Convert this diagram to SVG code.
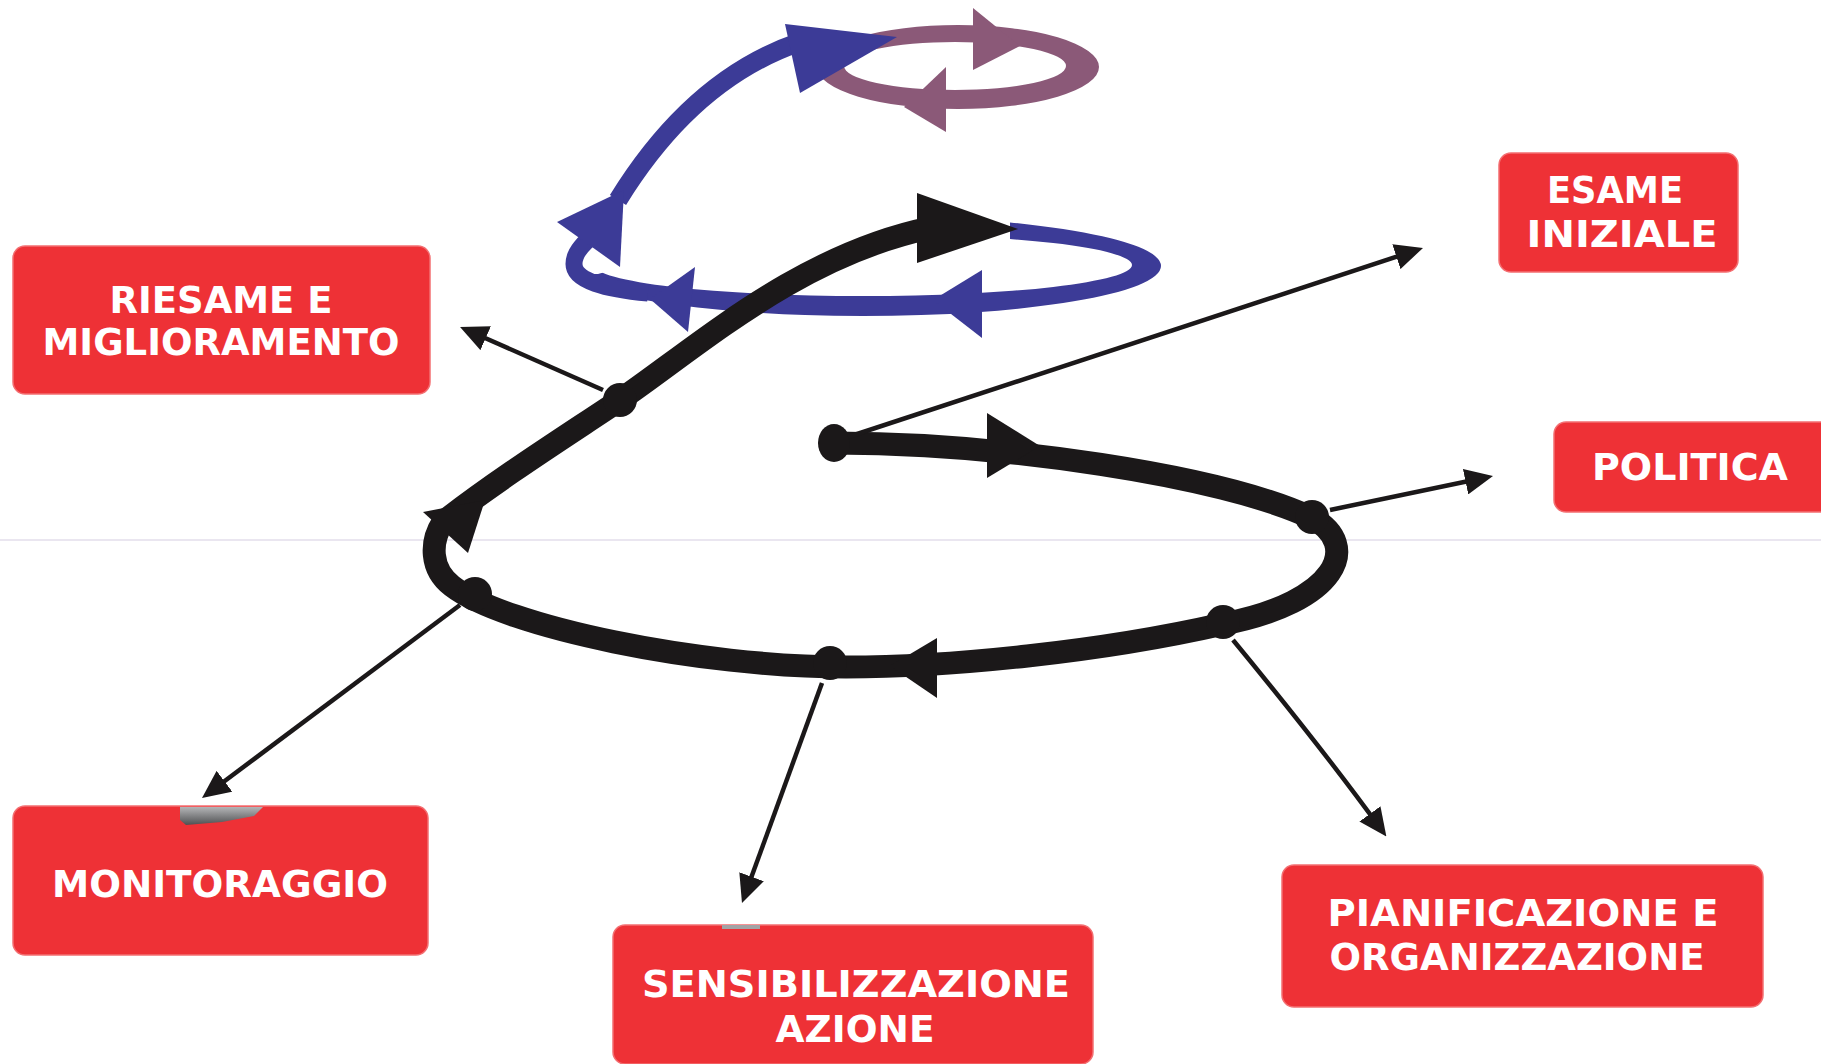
<svg xmlns="http://www.w3.org/2000/svg" width="1821" height="1064" viewBox="0 0 1821 1064">
<style>
.box{fill:#ee3136;stroke:#f36f72;stroke-width:1.5}
.lbl{font-family:"DejaVu Sans","Verdana",sans-serif;font-weight:bold;font-size:38px;fill:#ffffff;text-anchor:middle}
.conn{stroke:#1b1819;stroke-width:4.5;fill:none;marker-end:url(#ah)}
.spiral{stroke:#1b1819;stroke-width:23;fill:none}
.blk{fill:#1b1819}
.blue{fill:#3c3b97}
.bluestroke{stroke:#3c3b97;fill:none}
.purple{fill:#8b5978}
</style>
<defs>
<marker id="ah" viewBox="0 0 28 26" refX="18" refY="13" markerWidth="28" markerHeight="26" markerUnits="userSpaceOnUse" orient="auto">
<path d="M0,0 L28,13 L0,26 Z" fill="#1b1819"/>
</marker>
<linearGradient id="smudge" x1="0" y1="0" x2="0" y2="1">
<stop offset="0" stop-color="#b4b5b7"/>
<stop offset="1" stop-color="#4f5052"/>
</linearGradient>
<clipPath id="blueClip">
<path d="M0,274 H598 L640,262 H1010 V0 H1821 V1064 H0 Z"/>
</clipPath>
</defs>

<line x1="0" y1="540" x2="1821" y2="540" stroke="#d6cde2" stroke-width="1.2"/>

<g id="purple-loop">
<path class="purple" fill-rule="evenodd" d="M817,67 A141,42 0 1 0 1099,67 A141,42 0 1 0 817,67 Z M844,66 A111,24 0 1 0 1066,66 A111,24 0 1 0 844,66 Z"/>
<polygon class="purple" points="973,8 1020,46 973,70"/>
<polygon class="purple" points="946,67 904,107 946,132"/>
</g>

<g id="blue-loop">
<path class="blue" fill-rule="evenodd" clip-path="url(#blueClip)" d="M565,266 A298,50 0 1 0 1161,266 A298,50 0 1 0 565,266 Z M594,265 A269,31 0 1 0 1132,265 A269,31 0 1 0 594,265 Z"/>
<path class="bluestroke" stroke-width="17" d="M648,293 C606,289 574,281 574,264 C574,252 584,242 598,232"/>
<path class="bluestroke" stroke-width="19" d="M618,200 C655,140 712,72 800,42"/>
<polygon class="blue" points="557,222 624,190 620,267"/>
<polygon class="blue" points="785,24 897,37 800,93"/>
<polygon class="blue" points="695,267 650,299 688,332"/>
<polygon class="blue" points="982,270 933,300 982,338"/>
</g>

<g id="black-spiral">
<path class="spiral" d="M834,443 C1000,443 1220,475 1312,518 C1362,545 1338,602 1223,624 C1100,652 950,667 846,667 C700,667 505,627 452,586 C430,569 430,542 443,522 C500,478 560,440 620,400 C700,345 800,255 930,228"/>
<polygon class="blk" points="917,193 1018,229 917,263"/>
<polygon class="blk" points="987,413 1040,446 987,478"/>
<polygon class="blk" points="937,638 890,666 937,698"/>
<polygon class="blk" points="423,512 485,500 468,553"/>
<ellipse class="blk" cx="834" cy="443" rx="16" ry="19"/>
<circle class="blk" cx="620" cy="400" r="17"/>
<circle class="blk" cx="1312" cy="517" r="17"/>
<circle class="blk" cx="1223" cy="622" r="17"/>
<circle class="blk" cx="830" cy="663" r="17"/>
<circle class="blk" cx="475" cy="594" r="17"/>
</g>

<g id="connectors">
<path class="conn" d="M848,437 L1413.5,251.1"/>
<path class="conn" d="M1330,510 L1483.2,478"/>
<path class="conn" d="M1233,640 Q1322,748 1380.5,828.5"/>
<path class="conn" d="M822,683 L745.4,893.6"/>
<path class="conn" d="M460,605 L210,792"/>
<path class="conn" d="M603,390 L469.2,331"/>
</g>

<g id="node-riesame">
<rect class="box" x="13" y="246" width="417" height="148" rx="12"/>
<text class="lbl" x="221" y="313" textLength="223" lengthAdjust="spacingAndGlyphs">RIESAME E</text>
<text class="lbl" x="221" y="355" textLength="357" lengthAdjust="spacingAndGlyphs">MIGLIORAMENTO</text>
</g>

<g id="node-esame">
<rect class="box" x="1499" y="153" width="239" height="119" rx="12"/>
<text class="lbl" x="1615" y="203" textLength="136" lengthAdjust="spacingAndGlyphs">ESAME</text>
<text class="lbl" x="1622" y="247" textLength="191" lengthAdjust="spacingAndGlyphs">INIZIALE</text>
</g>

<g id="node-politica">
<rect class="box" x="1554" y="422" width="290" height="90" rx="12"/>
<text class="lbl" x="1690" y="480" textLength="196" lengthAdjust="spacingAndGlyphs">POLITICA</text>
</g>

<g id="node-monitoraggio">
<rect class="box" x="13" y="806" width="415" height="149" rx="12"/>
<path d="M180,807 H263 L254,816 L222,822 L186,825 L180,820 Z" fill="url(#smudge)"/>
<text class="lbl" x="220" y="897" textLength="336" lengthAdjust="spacingAndGlyphs">MONITORAGGIO</text>
</g>

<g id="node-sensibilizzazione">
<rect class="box" x="613" y="925" width="480" height="139" rx="12"/>
<rect x="722" y="925" width="38" height="4" fill="#a3a3a5"/>
<text class="lbl" x="856" y="997" textLength="428" lengthAdjust="spacingAndGlyphs">SENSIBILIZZAZIONE</text>
<text class="lbl" x="855" y="1042" textLength="159" lengthAdjust="spacingAndGlyphs">AZIONE</text>
</g>

<g id="node-pianificazione">
<rect class="box" x="1282" y="865" width="481" height="142" rx="12"/>
<text class="lbl" x="1523" y="926" textLength="391" lengthAdjust="spacingAndGlyphs">PIANIFICAZIONE E</text>
<text class="lbl" x="1517" y="970" textLength="375" lengthAdjust="spacingAndGlyphs">ORGANIZZAZIONE</text>
</g>
</svg>
